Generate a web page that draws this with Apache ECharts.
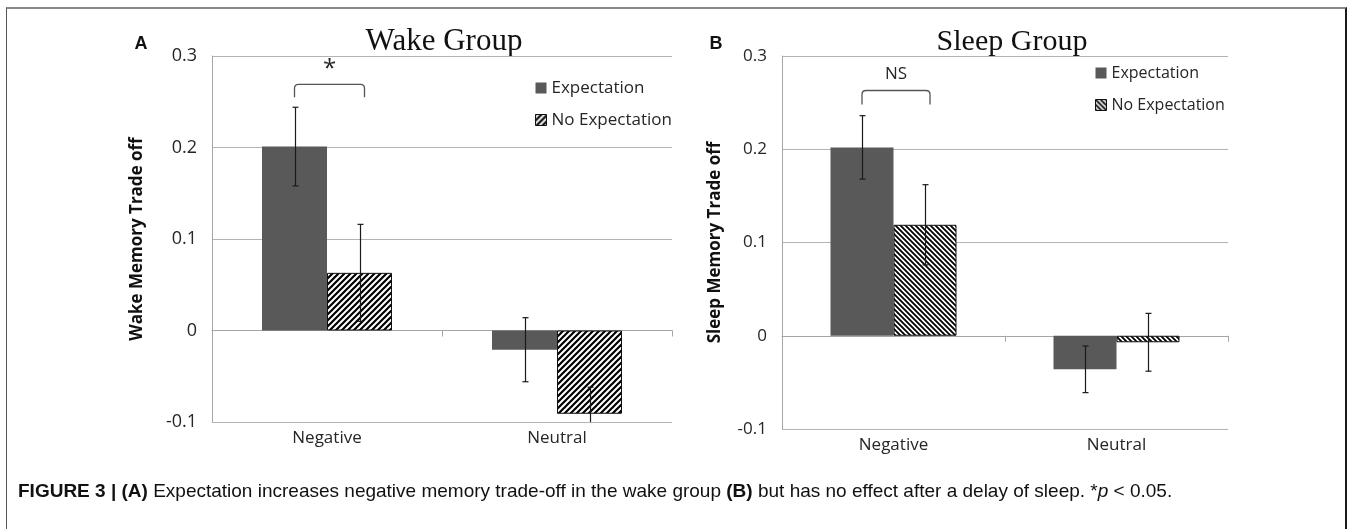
<!DOCTYPE html>
<html>
<head>
<meta charset="utf-8">
<script src="https://cdn.jsdelivr.net/npm/echarts@6/dist/echarts.min.js"></script>
<style>
  html, body { margin: 0; padding: 0; background: #fff; }
  #wrap { position: relative; width: 1349px; height: 529px; overflow: hidden; }
  #chart { position: absolute; left: 0; top: 0; width: 1349px; height: 529px; }
  #frame {
    position: absolute; left: 6px; top: 7px; width: 1341px; height: 540px;
    border-top: 2px solid #8a8a8a; border-left: 1px solid #555; border-right: 2px solid #1a1a1a;
    box-sizing: border-box; pointer-events: none;
  }
  #caption {
    position: absolute; left: 18px; top: 480px;
    font-family: 'Liberation Sans', Arial, sans-serif; font-size: 19px; color: #111;
    white-space: nowrap;
  }
</style>
</head>
<body>
<div id="wrap">
  <div id="chart"></div>
  <div id="frame"></div>
  <div id="caption"><b>FIGURE 3 | (A)</b> Expectation increases negative memory trade-off in the wake group <b>(B)</b> but has no effect after a delay of sleep. *<i>p</i> &lt; 0.05.</div>
</div>
<script>
// data
const categories = ['Negative', 'Neutral']

const wakeExpectation = [0.201, -0.021]
const wakeNoExpectation = [0.063, -0.091]
const wakeExpErr = [0.043, 0.035]
const wakeNoExpErr = [0.053, 0.029]

const sleepExpectation = [0.202, -0.036]
const sleepNoExpectation = [0.119, -0.007]
const sleepExpErr = [0.034, 0.025]
const sleepNoExpErr = [0.043, 0.031]

const yMin = -0.1
const yMax = 0.3
const yStep = 0.1

// bracket over Negative: [top of bracket, end of legs, label height]
const wakeBracket = [0.269, 0.255, 0.286]
const sleepBracket = [0.263, 0.248, 0.280]
const wakeSig = '*'
const sleepSig = 'NS'

const FONT = "'Open Sans', 'Noto Sans', sans-serif"
const DARK = '#595959'

function makeHatch(size, dir, lw) {
  const c = document.createElement('canvas')
  c.width = size
  c.height = size
  const g = c.getContext('2d')
  g.fillStyle = '#fff'
  g.fillRect(0, 0, size, size)
  g.strokeStyle = '#000'
  g.lineWidth = lw
  g.beginPath()
  if (dir === '/') {
    g.moveTo(-1, size + 1); g.lineTo(size + 1, -1)
    g.moveTo(-1, 1); g.lineTo(1, -1)
    g.moveTo(size - 1, size + 1); g.lineTo(size + 1, size - 1)
  } else {
    g.moveTo(-1, -1); g.lineTo(size + 1, size + 1)
    g.moveTo(size - 1, -1); g.lineTo(size + 1, 1)
    g.moveTo(-1, size - 1); g.lineTo(1, size + 1)
  }
  g.stroke()
  return c
}

const hatchA = { image: makeHatch(6, '/', 2.2), repeat: 'repeat' }
const hatchB = { image: makeHatch(5, '\\', 1.8), repeat: 'repeat' }

const BAR_A = 65
const BAR_B = 63

function errorSeries(gi, values, errs, side, barW) {
  return {
    type: 'custom',
    xAxisIndex: gi * 2,
    yAxisIndex: gi,
    clip: true,
    silent: true,
    z: 5,
    data: values.map((v, i) => [i, v, errs[i]]),
    renderItem: (params, api) => {
      const i = api.value(0), v = api.value(1), e = api.value(2)
      const x = Math.round(api.coord([i, v])[0] + side * barW / 2) + 0.5
      const yTop = api.coord([i, v + e])[1]
      const yBot = api.coord([i, v - e])[1]
      const cap = 3
      const st = { stroke: '#1a1a1a', lineWidth: 1.2 }
      return {
        type: 'group',
        children: [
          { type: 'line', shape: { x1: x, y1: yTop, x2: x, y2: yBot }, style: st },
          { type: 'line', shape: { x1: x - cap, y1: yTop, x2: x + cap, y2: yTop }, style: st },
          { type: 'line', shape: { x1: x - cap, y1: yBot, x2: x + cap, y2: yBot }, style: st }
        ]
      }
    }
  }
}

function bracketSeries(gi, br, label, barW, fontSize) {
  return {
    type: 'custom',
    xAxisIndex: gi * 2,
    yAxisIndex: gi,
    silent: true,
    z: 6,
    data: [[0, br[0], br[1], br[2]]],
    renderItem: (params, api) => {
      const c = api.coord([api.value(0), api.value(1)])
      const xl = c[0] - barW / 2
      const xr = c[0] + barW / 2 + 5
      const yt = c[1]
      const yl = api.coord([0, api.value(2)])[1]
      const ytx = api.coord([0, api.value(3)])[1]
      const r = 4
      const d = 'M' + xl + ' ' + yl + ' L' + xl + ' ' + (yt + r) +
        ' Q' + xl + ' ' + yt + ' ' + (xl + r) + ' ' + yt +
        ' L' + (xr - r) + ' ' + yt + ' Q' + xr + ' ' + yt + ' ' + xr + ' ' + (yt + r) +
        ' L' + xr + ' ' + yl
      return {
        type: 'group',
        children: [
          { type: 'path', shape: { pathData: d }, style: { fill: null, stroke: '#555', lineWidth: 1.3 } },
          {
            type: 'text', x: (xl + xr) / 2, y: ytx,
            style: {
              text: label, fill: '#262626', font: fontSize + 'px ' + FONT,
              align: 'center', verticalAlign: 'middle', textAlign: 'center', textVerticalAlign: 'middle'
            }
          }
        ]
      }
    }
  }
}

function xAxes(gi, fs) {
  return [
    {
      gridIndex: gi, type: 'category', data: categories,
      axisLine: { show: false, onZero: false }, axisTick: { show: false },
      axisLabel: { fontSize: fs, margin: 8, color: '#262626', fontFamily: FONT }
    },
    {
      gridIndex: gi, type: 'category', data: categories, position: 'bottom',
      axisLine: { onZero: true, lineStyle: { color: '#a6a6a6', width: 1 } },
      axisTick: { show: true, length: 6, lineStyle: { color: '#a6a6a6' } },
      axisLabel: { show: false }
    }
  ]
}

function yAxis(gi, name, gap, fs) {
  return {
    gridIndex: gi, type: 'value', min: yMin, max: yMax, interval: yStep,
    name: name, nameLocation: 'middle', nameGap: gap, nameRotate: 90,
    nameTextStyle: { fontWeight: 'bold', fontSize: 17, color: '#111', fontFamily: FONT },
    axisLine: { show: true, lineStyle: { color: '#a6a6a6' } },
    axisTick: { show: false },
    axisLabel: {
      fontSize: fs, margin: 15, color: '#262626', fontFamily: FONT,
      formatter: v => String(+v.toFixed(1))
    },
    splitLine: { lineStyle: { color: '#b3b3b3', width: 1 } }
  }
}

function legend(left, top, hatch, fs) {
  return {
    left: left, top: top, orient: 'vertical', icon: 'rect',
    itemWidth: 11, itemHeight: 11, itemGap: 12, selectedMode: false,
    textStyle: { fontSize: fs, color: '#262626', fontFamily: FONT, lineHeight: 20 },
    data: [
      { name: 'Expectation' },
      { name: 'No Expectation', itemStyle: { color: hatch, borderColor: '#111', borderWidth: 1 } }
    ]
  }
}

const chart = echarts.init(document.getElementById('chart'))
const option = {
  animation: false,
  textStyle: { fontFamily: FONT },
  grid: [
    { left: 212, top: 56, width: 460, height: 366 },
    { left: 782, top: 56, width: 446, height: 373 }
  ],
  xAxis: [...xAxes(0, 17), ...xAxes(1, 17)],
  yAxis: [yAxis(0, 'Wake Memory Trade off', 66, 18), yAxis(1, 'Sleep Memory Trade off', 58, 17)],
  legend: [legend(530, 73, hatchA, 17), legend(1090, 58, hatchB, 16)],
  graphic: [
    { type: 'text', x: 444, y: 42, style: { text: 'Wake Group', font: '31px "Liberation Serif", serif', fill: '#111', align: 'center', verticalAlign: 'middle', textAlign: 'center', textVerticalAlign: 'middle' } },
    { type: 'text', x: 1012, y: 42, style: { text: 'Sleep Group', font: '30px "Liberation Serif", serif', fill: '#111', align: 'center', verticalAlign: 'middle', textAlign: 'center', textVerticalAlign: 'middle' } },
    { type: 'text', x: 141, y: 44, style: { text: 'A', font: 'bold 18px "Liberation Sans", Arial', fill: '#111', align: 'center', verticalAlign: 'middle', textAlign: 'center', textVerticalAlign: 'middle' } },
    { type: 'text', x: 716, y: 44, style: { text: 'B', font: 'bold 18px "Liberation Sans", Arial', fill: '#111', align: 'center', verticalAlign: 'middle', textAlign: 'center', textVerticalAlign: 'middle' } }
  ],
  series: [
    {
      type: 'bar', name: 'Expectation', xAxisIndex: 0, yAxisIndex: 0, data: wakeExpectation,
      barWidth: BAR_A, barGap: '0%', itemStyle: { color: DARK }, emphasis: { disabled: true }
    },
    {
      type: 'bar', name: 'No Expectation', xAxisIndex: 0, yAxisIndex: 0, data: wakeNoExpectation,
      barWidth: BAR_A, barGap: '0%', itemStyle: { color: hatchA, borderColor: '#111', borderWidth: 1 },
      emphasis: { disabled: true }
    },
    {
      type: 'bar', name: 'Expectation', xAxisIndex: 2, yAxisIndex: 1, data: sleepExpectation,
      barWidth: BAR_B, barGap: '0%', itemStyle: { color: DARK }, emphasis: { disabled: true }
    },
    {
      type: 'bar', name: 'No Expectation', xAxisIndex: 2, yAxisIndex: 1, data: sleepNoExpectation,
      barWidth: BAR_B, barGap: '0%', itemStyle: { color: hatchB, borderColor: '#111', borderWidth: 1 },
      emphasis: { disabled: true }
    },
    errorSeries(0, wakeExpectation, wakeExpErr, -1, BAR_A),
    errorSeries(0, wakeNoExpectation, wakeNoExpErr, 1, BAR_A),
    errorSeries(1, sleepExpectation, sleepExpErr, -1, BAR_B),
    errorSeries(1, sleepNoExpectation, sleepNoExpErr, 1, BAR_B),
    bracketSeries(0, wakeBracket, wakeSig, BAR_A, 24),
    bracketSeries(1, sleepBracket, sleepSig, BAR_B, 17)
  ]
}
chart.setOption(option)
</script>
</body>
</html>
